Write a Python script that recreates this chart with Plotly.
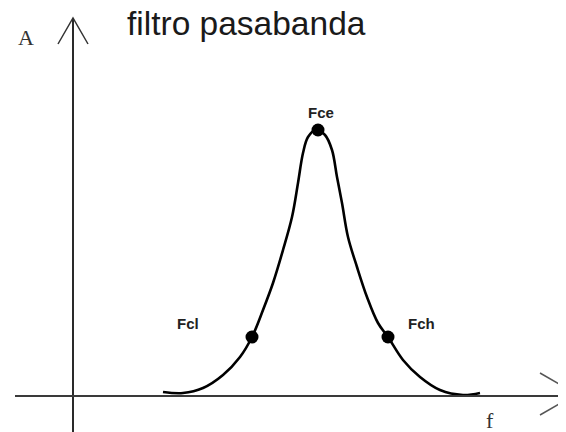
import plotly.graph_objects as go

# Band-pass response curve (f along horizontal, A vertical)
freq = [90, 110, 130, 150, 167, 179, 190, 200, 210, 219, 225, 230, 235, 243,
        252, 259, 264, 269, 275, 284, 294, 305, 315, 330, 347, 367, 390, 407]
amp = [4, 3, 8, 21, 39, 59, 86, 113, 146, 179, 213, 243, 259, 266,
       261, 246, 219, 193, 159, 129, 99, 73, 59, 36, 19, 6, 1, 3]

# Marked points: lower cutoff, centre, upper cutoff
point_names = ["Fcl", "Fce", "Fch"]
point_freq = [179, 245, 315]
point_amp = [59, 266, 59]

title_text = "filtro pasabanda"
y_label = "A"
x_label = "f"

# page body has an 8px margin: shift the view so content lands where intended
OFF = 8

fig = go.Figure()

fig.add_trace(go.Scatter(
    x=freq, y=amp, mode="lines",
    line=dict(color="black", width=2.6, shape="spline", smoothing=1.0),
    hoverinfo="skip", showlegend=False,
))

fig.add_trace(go.Scatter(
    x=point_freq, y=point_amp, mode="markers",
    marker=dict(color="black", size=13),
    hoverinfo="skip", showlegend=False,
))

ax_col = "#2a2a2a"
shapes = [
    dict(type="line", x0=0, x1=0, y0=-60, y1=378, line=dict(color=ax_col, width=2)),
    dict(type="line", x0=-58, x1=520, y0=0, y1=0, line=dict(color="#3a3a3a", width=2)),
    dict(type="path", path="M -15 352 L 0 378 L 15 352", line=dict(color="#333", width=1.5)),
    dict(type="line", x0=467, y0=23, x1=495, y1=7, line=dict(color="#555", width=1.5)),
    dict(type="line", x0=467, y0=-19, x1=495, y1=-3, line=dict(color="#555", width=1.5)),
]

annotations = [
    dict(text=title_text, xref="paper", yref="paper", x=(125 - OFF) / 566, y=1 - (24 - OFF) / 432,
         xanchor="left", yanchor="middle", showarrow=False,
         font=dict(family="Liberation Sans, Arial", size=33.5, color="#1a1a1a")),
    dict(text=y_label, x=-47, y=359, showarrow=False,
         font=dict(family="Liberation Serif, Times New Roman, serif", size=22, color="#333")),
    dict(text=x_label, x=417, y=-24, showarrow=False,
         font=dict(family="Liberation Serif, Times New Roman, serif", size=22, color="#333")),
]
label_pos = {"Fcl": (115, 73), "Fce": (248, 284), "Fch": (348, 73)}
for name in point_names:
    lx, ly = label_pos[name]
    annotations.append(dict(
        text=name, x=lx, y=ly, showarrow=False,
        font=dict(family="Liberation Sans, Arial", size=15, color="#222", weight="bold"),
    ))

fig.update_layout(
    width=566, height=432,
    margin=dict(l=0, r=0, t=0, b=0),
    paper_bgcolor="white", plot_bgcolor="white",
    xaxis=dict(range=[-73 + OFF, 493 + OFF], visible=False, fixedrange=True),
    yaxis=dict(range=[-36 - OFF, 396 - OFF], visible=False, fixedrange=True),
    shapes=shapes, annotations=annotations,
)

fig.write_html("out.html")
